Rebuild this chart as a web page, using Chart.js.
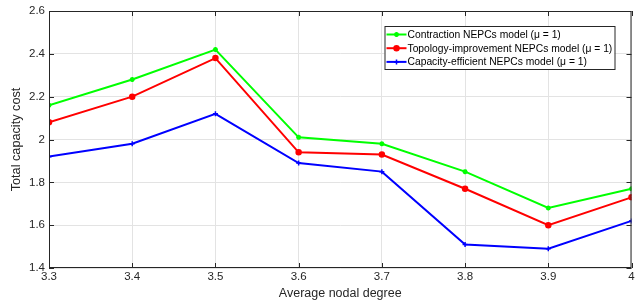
<!DOCTYPE html>
<html>
<head>
<meta charset="utf-8">
<script src="https://cdn.jsdelivr.net/npm/chart.js@4.4.1/dist/chart.umd.min.js"></script>
<style>
  html, body { margin: 0; padding: 0; background: #ffffff; }
  #wrap { width: 637px; height: 301px; }
</style>
</head>
<body>
<div id="wrap"><canvas id="capacity-chart" width="637" height="301"></canvas></div>
<script>
const nodalDegrees = [3.3, 3.4, 3.5, 3.6, 3.7, 3.8, 3.9, 4.0];
const contractionCost = [2.16, 2.28, 2.42, 2.01, 1.98, 1.85, 1.68, 1.77];
const topologyCost = [2.08, 2.20, 2.38, 1.94, 1.93, 1.77, 1.60, 1.73];
const capacityCost = [1.92, 1.98, 2.12, 1.89, 1.85, 1.51, 1.49, 1.62];
const seriesLabels = [
  "Contraction NEPCs model (\u03bc = 1)",
  "Topology-improvement NEPCs model (\u03bc = 1)",
  "Capacity-efficient NEPCs model (\u03bc = 1)"
];

const AXIS_COLOR = "#262626";
const GRID_COLOR = "#e3e3e3";
const FONT = "'Liberation Sans', Arial, sans-serif";

function toPoints(values) {
  return values.map((y, i) => ({ x: nodalDegrees[i], y }));
}

function formatTick(value) {
  return String(Math.round(value * 10) / 10);
}

// MATLAB-like box with inward ticks
const boxPlugin = {
  id: "matlabBox",
  afterDraw(chart) {
    const { ctx, chartArea: area, scales } = chart;
    ctx.save();
    ctx.strokeStyle = AXIS_COLOR;
    ctx.lineWidth = 1;
    ctx.strokeRect(area.left + 0.5, area.top + 0.5, area.right - area.left - 1, area.bottom - area.top - 1);

    const tickLen = 5;
    ctx.beginPath();
    scales.x.ticks.forEach((tick) => {
      const px = Math.round(scales.x.getPixelForValue(tick.value)) + 0.5;
      ctx.moveTo(px, area.bottom);
      ctx.lineTo(px, area.bottom - tickLen);
      ctx.moveTo(px, area.top);
      ctx.lineTo(px, area.top + tickLen);
    });
    scales.y.ticks.forEach((tick) => {
      const py = Math.round(scales.y.getPixelForValue(tick.value)) + 0.5;
      ctx.moveTo(area.left, py);
      ctx.lineTo(area.left + tickLen, py);
      ctx.moveTo(area.right, py);
      ctx.lineTo(area.right - tickLen, py);
    });
    ctx.stroke();
    ctx.restore();
  }
};

// boxed legend in the upper right, drawn from the datasets
const legendPlugin = {
  id: "boxedLegend",
  afterDraw(chart) {
    const { ctx, chartArea: area } = chart;
    const boxRight = area.right - 17;
    const boxTop = area.top + 15;
    const boxWidth = 230;
    const rowHeight = 13.7;
    const boxHeight = 43;
    const boxLeft = boxRight - boxWidth;

    ctx.save();
    ctx.fillStyle = "#ffffff";
    ctx.fillRect(boxLeft, boxTop, boxWidth, boxHeight);
    ctx.strokeStyle = AXIS_COLOR;
    ctx.lineWidth = 1;
    ctx.strokeRect(boxLeft + 0.5, boxTop + 0.5, boxWidth, boxHeight);

    ctx.textBaseline = "middle";
    chart.data.datasets.forEach((ds, i) => {
      const y = boxTop + 8.5 + i * rowHeight;
      ctx.strokeStyle = ds.borderColor;
      ctx.fillStyle = ds.borderColor;
      ctx.lineWidth = 2;
      ctx.beginPath();
      ctx.moveTo(boxLeft + 2, y);
      ctx.lineTo(boxLeft + 22, y);
      ctx.stroke();
      ctx.lineWidth = 1.5;
      Chart.helpers.drawPoint(ctx, {
        pointStyle: ds.pointStyle,
        radius: 2.5,
        borderWidth: 1.5
      }, boxLeft + 12, y);
      ctx.fillStyle = "#000000";
      ctx.font = `10.3px ${FONT}`;
      ctx.fillText(ds.label, boxLeft + 23, y + 0.5);
    });
    ctx.restore();
  }
};

function makeDataset(label, values, color, pointStyle) {
  return {
    label,
    data: toPoints(values),
    borderColor: color,
    backgroundColor: color,
    pointBackgroundColor: color,
    pointBorderColor: color,
    pointStyle,
    pointRadius: 2.5,
    pointBorderWidth: 1.5,
    borderWidth: 2,
    tension: 0,
    fill: false
  };
}

new Chart(document.getElementById("capacity-chart"), {
  type: "line",
  data: {
    datasets: [
      makeDataset(seriesLabels[0], contractionCost, "#00ff00", "star"),
      makeDataset(seriesLabels[1], topologyCost, "#ff0000", "circle"),
      makeDataset(seriesLabels[2], capacityCost, "#0000ff", "cross")
    ]
  },
  options: {
    responsive: false,
    animation: false,
    devicePixelRatio: 1,
    layout: {
      padding: { top: 11, right: 0, left: 9, bottom: 0 }
    },
    plugins: {
      legend: { display: false },
      tooltip: { enabled: false }
    },
    scales: {
      x: {
        type: "linear",
        min: 3.3,
        max: 4.0,
        afterFit(scale) {
          scale.height = 33;
          // let the last label run to the edge, like the original figure
          scale.paddingRight = 0;
          scale.paddingLeft = 0;
        },
        afterBuildTicks(scale) {
          scale.ticks = nodalDegrees.map((v) => ({ value: v }));
        },
        ticks: {
          color: AXIS_COLOR,
          font: { family: FONT, size: 11.5 },
          padding: 2,
          maxRotation: 0,
          callback: formatTick
        },
        grid: { color: GRID_COLOR, drawTicks: false },
        border: { display: false },
        title: {
          display: true,
          text: "Average nodal degree",
          color: AXIS_COLOR,
          font: { family: FONT, size: 12.5 },
          padding: { top: 1, bottom: 0 }
        }
      },
      y: {
        min: 1.4,
        max: 2.6,
        afterFit(scale) {
          scale.width = 40;
        },
        ticks: {
          stepSize: 0.2,
          color: AXIS_COLOR,
          font: { family: FONT, size: 11.5 },
          padding: 4,
          callback: formatTick
        },
        grid: { color: GRID_COLOR, drawTicks: false },
        border: { display: false },
        title: {
          display: true,
          text: "Total capacity cost",
          color: AXIS_COLOR,
          font: { family: FONT, size: 12.7 },
          padding: { top: 0, bottom: 0 }
        }
      }
    }
  },
  plugins: [boxPlugin, legendPlugin]
});
</script>
</body>
</html>
